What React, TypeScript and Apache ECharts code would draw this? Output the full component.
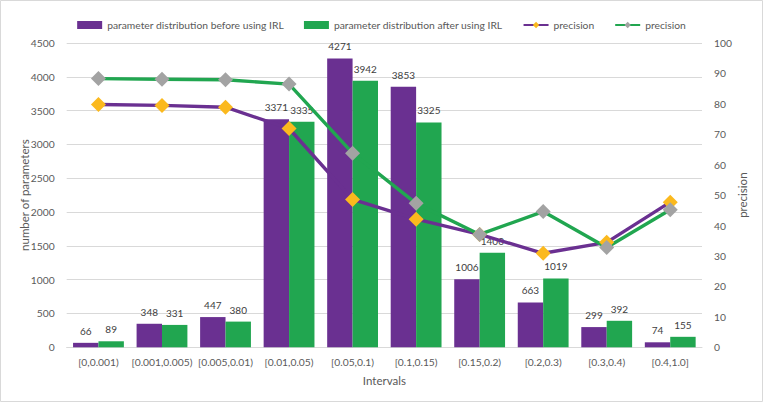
import React, { useEffect, useRef } from "react";
import * as echarts from "echarts";

const categories = [
  "[0,0.001)",
  "[0.001,0.005)",
  "[0.005,0.01)",
  "[0.01,0.05)",
  "[0.05,0.1)",
  "[0.1,0.15)",
  "[0.15,0.2)",
  "[0.2,0.3)",
  "[0.3,0.4)",
  "[0.4,1.0]",
];
const countBefore = [66, 348, 447, 3371, 4271, 3853, 1006, 663, 299, 74];
const countAfter = [89, 331, 380, 3335, 3942, 3325, 1400, 1019, 392, 155];
const precisionBefore = [79.8, 79.5, 78.9, 71.9, 48.6, 42.1, 37.1, 30.9, 34.5, 47.7];
const precisionAfter = [88.3, 88.1, 87.9, 86.5, 63.8, 47.3, 37.1, 44.6, 32.8, 45.2];

const nameBefore = "parameter distribution before using IRL";
const nameAfter = "parameter distribution after using IRL";
const namePrecBefore = "precision";
const namePrecAfter = "precision ";

const FONT = "Lato, 'Noto Sans', sans-serif";
const PURPLE = "#6A3091";
const GREEN = "#21A650";
const GOLD = "#FBB91E";
const GREY = "#A3A3A3";
const TEXT = "#595959";

export default function App() {
  const ref = useRef<HTMLDivElement>(null);
  useEffect(() => {
    document.body.style.margin = "0";
    const chart = echarts.init(ref.current!, undefined, { renderer: "svg" });
    chart.setOption({
      animation: false,
      backgroundColor: "#ffffff",
      textStyle: { fontFamily: FONT },
      graphic: [
        {
          type: "rect",
          shape: { x: 0.5, y: 0.5, width: 762, height: 401 },
          style: { fill: "none", stroke: "#D9D9D9", lineWidth: 1 },
          silent: true,
        },
      ],
      legend: {
        top: 15,
        left: "center",
        itemWidth: 25,
        itemHeight: 8,
        itemGap: 20,
        textStyle: { color: TEXT, fontSize: 10.3, fontFamily: FONT },
        formatter: (n: string) => n.trim(),
        data: [
          { name: nameBefore, icon: "rect" },
          { name: nameAfter, icon: "rect" },
          { name: namePrecBefore },
          { name: namePrecAfter },
        ],
      },
      grid: { left: 66.7, right: 61, top: 43, bottom: 54.7 },
      xAxis: {
        type: "category",
        data: categories,
        name: "Intervals",
        nameLocation: "middle",
        nameGap: 27,
        nameMoveOverlap: false,
        nameTextStyle: { color: TEXT, fontSize: 11.5, fontFamily: FONT },
        axisLine: { lineStyle: { color: "#D9D9D9", width: 1 } },
        axisTick: { show: false },
        axisLabel: { color: TEXT, fontSize: 10.3, margin: 10, interval: 0, fontFamily: FONT },
      },
      yAxis: [
        {
          type: "value",
          min: 0,
          max: 4500,
          interval: 500,
          name: "number of parameters",
          nameLocation: "middle",
          nameRotate: 90,
          nameGap: 36,
          nameMoveOverlap: false,
          nameTextStyle: { color: TEXT, fontSize: 11.5, fontFamily: FONT },
          axisLine: { show: false },
          axisTick: { show: false },
          axisLabel: {
            color: TEXT,
            fontSize: 10.3,
            margin: 12,
            fontFamily: FONT,
            formatter: (v: number) => String(v),
          },
          splitLine: { lineStyle: { color: "#D9D9D9", width: 1 } },
        },
        {
          type: "value",
          min: 0,
          max: 100,
          interval: 10,
          position: "right",
          name: "precision",
          nameLocation: "middle",
          nameRotate: 90,
          nameGap: 34,
          nameMoveOverlap: false,
          nameTextStyle: { color: TEXT, fontSize: 11.5, fontFamily: FONT },
          axisLine: { show: false },
          axisTick: { show: false },
          axisLabel: { color: TEXT, fontSize: 10.3, margin: 12, fontFamily: FONT },
          splitLine: { show: false },
        },
      ],
      series: [
        {
          name: nameBefore,
          type: "bar",
          data: countBefore,
          barGap: "0%",
          barCategoryGap: "20%",
          itemStyle: { color: PURPLE },
          label: { show: true, position: "top", distance: 7, color: "#404040", fontSize: 10, fontFamily: FONT },
        },
        {
          name: nameAfter,
          type: "bar",
          data: countAfter,
          barGap: "0%",
          barCategoryGap: "20%",
          itemStyle: { color: GREEN },
          label: { show: true, position: "top", distance: 7, color: "#404040", fontSize: 10, fontFamily: FONT },
        },
        {
          name: namePrecBefore,
          type: "line",
          yAxisIndex: 1,
          data: precisionBefore,
          symbol: "diamond",
          symbolSize: 15,
          lineStyle: { color: PURPLE, width: 3.4 },
          itemStyle: { color: GOLD },
        },
        {
          name: namePrecAfter,
          type: "line",
          yAxisIndex: 1,
          data: precisionAfter,
          symbol: "diamond",
          symbolSize: 15,
          lineStyle: { color: GREEN, width: 3.4 },
          itemStyle: { color: GREY },
        },
      ],
    });
    return () => chart.dispose();
  }, []);
  return <div ref={ref} style={{ width: 763, height: 402 }} />;
}
